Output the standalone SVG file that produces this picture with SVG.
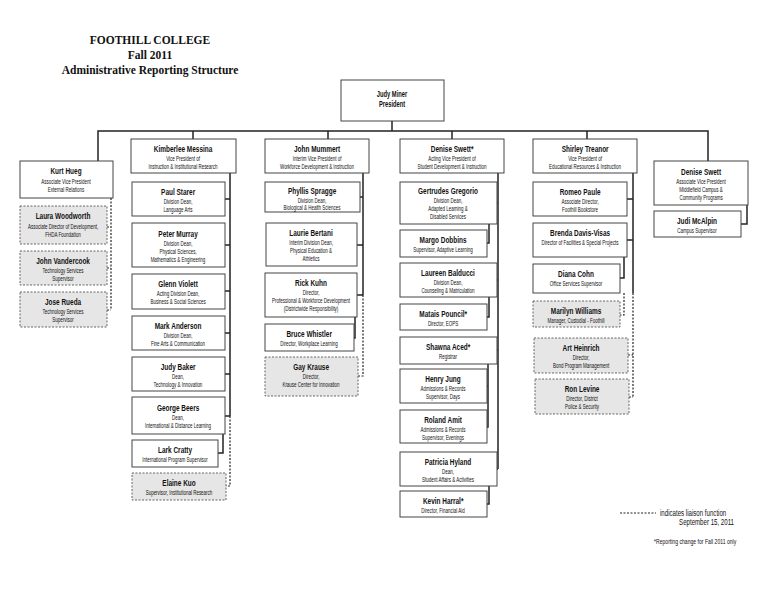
<svg xmlns="http://www.w3.org/2000/svg" width="768" height="594" viewBox="0 0 768 594">
<style>
text{font-family:"Liberation Sans",Arial,sans-serif;text-anchor:middle;fill:#111;transform-box:fill-box;transform-origin:center;transform:scaleX(0.68)}
.t{font-family:"Liberation Serif","Times New Roman",serif;font-weight:bold;font-size:12.5px;transform:scaleX(0.92)}
.b{font-size:9.5px;font-weight:bold}
.s{font-size:6.6px}
.box{fill:#fff;stroke:#444;stroke-width:1}
.g{fill:#e6e6e6;stroke:#666;stroke-width:1;stroke-dasharray:2,1.5}
.c path{fill:none;stroke:#222;stroke-width:1.5}
.c .d{stroke-dasharray:2,1.5;stroke-width:1.2}
.l{text-anchor:start;transform-origin:left}
.r{text-anchor:end;transform-origin:right}
</style>
<rect width="768" height="594" fill="#fff"/>
<text class="t" x="150" y="44">FOOTHILL COLLEGE</text>
<text class="t" x="150" y="59">Fall 2011</text>
<text class="t" x="150" y="74">Administrative Reporting Structure</text>
<g class="c">
<path d="M98,161V131H708V161M193,131V139M328,131V139M452,131V139M587,131V139M392,121V131"/>
<path class="d" d="M111,198V310M107,227H111M107,268H111M107,310H111"/>
<path d="M230,173V416M225,199H230M225,245H230M225,291H230M225,333H230M225,374H230M225,416H230M223,434V453H218"/>
<path class="d" d="M230,416V486H226"/>
<path d="M363,173V295M360,197H363M357,245H363M357,295H363M355,317V338H354"/>
<path class="d" d="M363,295V376H358"/>
<path d="M498,173V469M497,203H498M497,280H498M497,350H498M497,469H498M489,224V243H487M489,297V317H487M488,364V427H487M487,386H488M489,486V504H487"/>
<path d="M633,173V293M627,199H633M627,240H633M624,257V278H620M747,205V224H741"/>
<path class="d" d="M633,293V397M628,355H633M629,397H633M624,293V315H620"/>
<path class="d" d="M620,513H656"/>
</g>
<g id="pres"><rect class="box" x="341" y="80" width="103" height="41"/><text class="b" x="392" y="97" style="font-size:8.5px">Judy Miner</text><text class="b" x="392" y="107" style="font-size:8.5px">President</text></g>
<g id="kurt"><rect class="box" x="20" y="161" width="93" height="37"/><text class="b" x="66" y="174">Kurt Hueg</text><text class="s" x="66" y="184">Associate Vice President</text><text class="s" x="66" y="192">External Relations</text></g>
<g id="laura"><rect class="g" x="20" y="206" width="87" height="38"/><text class="b" x="63" y="219">Laura Woodworth</text><text class="s" x="63" y="229">Associate Director of Development,</text><text class="s" x="63" y="237">FHDA Foundation</text></g>
<g id="johnv"><rect class="g" x="20" y="251" width="87" height="34"/><text class="b" x="63" y="264">John Vandercook</text><text class="s" x="63" y="273">Technology Services</text><text class="s" x="63" y="281">Supervisor</text></g>
<g id="jose"><rect class="g" x="20" y="292" width="87" height="35"/><text class="b" x="63" y="305">Jose Rueda</text><text class="s" x="63" y="314">Technology Services</text><text class="s" x="63" y="322">Supervisor</text></g>
<g id="kim"><rect class="box" x="131" y="139" width="105" height="34"/><text class="b" x="183" y="152">Kimberlee Messina</text><text class="s" x="183" y="161">Vice President of</text><text class="s" x="183" y="169">Instruction &amp; Institutional Research</text></g>
<g id="paul"><rect class="box" x="132" y="182" width="93" height="34"/><text class="b" x="178" y="195">Paul Starer</text><text class="s" x="178" y="204">Division Dean,</text><text class="s" x="178" y="212">Language Arts</text></g>
<g id="peter"><rect class="box" x="132" y="223" width="93" height="44"/><text class="b" x="178" y="237">Peter Murray</text><text class="s" x="178" y="246">Division Dean,</text><text class="s" x="178" y="254">Physical Sciences,</text><text class="s" x="178" y="262">Mathematics &amp; Engineering</text></g>
<g id="glenn"><rect class="box" x="132" y="274" width="93" height="35"/><text class="b" x="178" y="287">Glenn Violett</text><text class="s" x="178" y="296">Acting Division Dean,</text><text class="s" x="178" y="304">Business &amp; Social Sciences</text></g>
<g id="mark"><rect class="box" x="132" y="316" width="93" height="34"/><text class="b" x="178" y="329">Mark Anderson</text><text class="s" x="178" y="338">Division Dean,</text><text class="s" x="178" y="346">Fine Arts &amp; Communication</text></g>
<g id="judy"><rect class="box" x="132" y="357" width="93" height="34"/><text class="b" x="178" y="370">Judy Baker</text><text class="s" x="178" y="379">Dean,</text><text class="s" x="178" y="387">Technology &amp; Innovation</text></g>
<g id="george"><rect class="box" x="132" y="397" width="93" height="37"/><text class="b" x="178" y="411">George Beers</text><text class="s" x="178" y="420">Dean,</text><text class="s" x="178" y="428">International &amp; Distance Learning</text></g>
<g id="lark"><rect class="box" x="132" y="440" width="86" height="27"/><text class="b" x="175" y="453">Lark Cratty</text><text class="s" x="175" y="462">International Program Supervisor</text></g>
<g id="elaine"><rect class="g" x="132" y="473" width="94" height="27"/><text class="b" x="179" y="486">Elaine Kuo</text><text class="s" x="179" y="495">Supervisor, Institutional Research</text></g>
<g id="john"><rect class="box" x="265" y="139" width="104" height="34"/><text class="b" x="317" y="152">John Mummert</text><text class="s" x="317" y="161">Interim Vice President of</text><text class="s" x="317" y="169">Workforce Development &amp; Instruction</text></g>
<g id="phyllis"><rect class="box" x="265" y="182" width="95" height="30"/><text class="b" x="312" y="194">Phyllis Spragge</text><text class="s" x="312" y="203">Division Dean,</text><text class="s" x="312" y="210">Biological &amp; Health Sciences</text></g>
<g id="laurie"><rect class="box" x="266" y="223" width="91" height="43"/><text class="b" x="311" y="236">Laurie Bertani</text><text class="s" x="311" y="245">Interim Division Dean,</text><text class="s" x="311" y="253">Physical Education &amp;</text><text class="s" x="311" y="261">Athletics</text></g>
<g id="rick"><rect class="box" x="265" y="273" width="92" height="44"/><text class="b" x="311" y="286">Rick Kuhn</text><text class="s" x="311" y="295">Director,</text><text class="s" x="311" y="303">Professional &amp; Workforce Development</text><text class="s" x="311" y="311">(Districtwide Responsibility)</text></g>
<g id="bruce"><rect class="box" x="265" y="324" width="89" height="27"/><text class="b" x="309" y="337">Bruce Whistler</text><text class="s" x="309" y="346">Director, Workplace Learning</text></g>
<g id="gay"><rect class="g" x="265" y="357" width="93" height="39"/><text class="b" x="311" y="370">Gay Krause</text><text class="s" x="311" y="379">Director,</text><text class="s" x="311" y="387">Krause Center for Innovation</text></g>
<g id="den"><rect class="box" x="400" y="139" width="104" height="34"/><text class="b" x="452" y="152">Denise Swett*</text><text class="s" x="452" y="161">Acting Vice President of</text><text class="s" x="452" y="169">Student Development &amp; Instruction</text></g>
<g id="gert"><rect class="box" x="400" y="182" width="97" height="42"/><text class="b" x="448" y="194">Gertrudes Gregorio</text><text class="s" x="448" y="203">Division Dean,</text><text class="s" x="448" y="211">Adapted Learning &amp;</text><text class="s" x="448" y="219">Disabled Services</text></g>
<g id="margo"><rect class="box" x="400" y="230" width="87" height="27"/><text class="b" x="443" y="243">Margo Dobbins</text><text class="s" x="443" y="252">Supervisor, Adaptive Learning</text></g>
<g id="laureen"><rect class="box" x="400" y="263" width="97" height="34"/><text class="b" x="448" y="276">Laureen Balducci</text><text class="s" x="448" y="285">Division Dean,</text><text class="s" x="448" y="293">Counseling &amp; Matriculation</text></g>
<g id="matais"><rect class="box" x="400" y="304" width="87" height="26"/><text class="b" x="443" y="317">Matais Pouncil*</text><text class="s" x="443" y="326">Director, EOPS</text></g>
<g id="shawna"><rect class="box" x="400" y="337" width="97" height="27"/><text class="b" x="448" y="350">Shawna Aced*</text><text class="s" x="448" y="359">Registrar</text></g>
<g id="henry"><rect class="box" x="400" y="369" width="87" height="34"/><text class="b" x="443" y="382">Henry Jung</text><text class="s" x="443" y="391">Admissions &amp; Records</text><text class="s" x="443" y="399">Supervisor, Days</text></g>
<g id="roland"><rect class="box" x="400" y="410" width="87" height="33"/><text class="b" x="443" y="423">Roland Amit</text><text class="s" x="443" y="432">Admissions &amp; Records</text><text class="s" x="443" y="440">Supervisor, Evenings</text></g>
<g id="patricia"><rect class="box" x="400" y="452" width="97" height="34"/><text class="b" x="448" y="465">Patricia Hyland</text><text class="s" x="448" y="474">Dean,</text><text class="s" x="448" y="482">Student Affairs &amp; Activities</text></g>
<g id="kevin"><rect class="box" x="400" y="491" width="87" height="26"/><text class="b" x="443" y="504">Kevin Harral*</text><text class="s" x="443" y="513">Director, Financial Aid</text></g>
<g id="shirley"><rect class="box" x="533" y="139" width="104" height="34"/><text class="b" x="585" y="152">Shirley Treanor</text><text class="s" x="585" y="161">Vice President of</text><text class="s" x="585" y="169">Educational Resources &amp; Instruction</text></g>
<g id="romeo"><rect class="box" x="533" y="182" width="94" height="34"/><text class="b" x="580" y="195">Romeo Paule</text><text class="s" x="580" y="204">Associate Director,</text><text class="s" x="580" y="212">Foothill Bookstore</text></g>
<g id="brenda"><rect class="box" x="533" y="223" width="94" height="34"/><text class="b" x="580" y="236">Brenda Davis-Visas</text><text class="s" x="580" y="245">Director of Facilities &amp; Special Projects</text></g>
<g id="diana"><rect class="box" x="533" y="264" width="87" height="29"/><text class="b" x="576" y="277">Diana Cohn</text><text class="s" x="576" y="286">Office Services Supervisor</text></g>
<g id="marilyn"><rect class="g" x="533" y="301" width="87" height="26"/><text class="b" x="576" y="314">Marilyn Williams</text><text class="s" x="576" y="323">Manager, Custodial - Foothill</text></g>
<g id="art"><rect class="g" x="534" y="338" width="94" height="35"/><text class="b" x="581" y="351">Art Heinrich</text><text class="s" x="581" y="360">Director,</text><text class="s" x="581" y="368">Bond Program Management</text></g>
<g id="ron"><rect class="g" x="535" y="379" width="94" height="35"/><text class="b" x="582" y="392">Ron Levine</text><text class="s" x="582" y="401">Director, District</text><text class="s" x="582" y="409">Police &amp; Security</text></g>
<g id="dsw"><rect class="box" x="654" y="161" width="94" height="44"/><text class="b" x="701" y="175">Denise Swett</text><text class="s" x="701" y="184">Associate Vice President</text><text class="s" x="701" y="192">Middlefield Campus &amp;</text><text class="s" x="701" y="200">Community Programs</text></g>
<g id="judi"><rect class="box" x="654" y="211" width="87" height="26"/><text class="b" x="697" y="224">Judi McAlpin</text><text class="s" x="697" y="233">Campus Supervisor</text></g>
<text class="l" x="660" y="516" style="font-size:9px">indicates liaison function</text>
<text class="r" x="734" y="525" style="font-size:9px">September 15, 2011</text>
<text class="r" x="736" y="544" style="font-size:7.5px">*Reporting change for Fall 2011 only</text>
</svg>
